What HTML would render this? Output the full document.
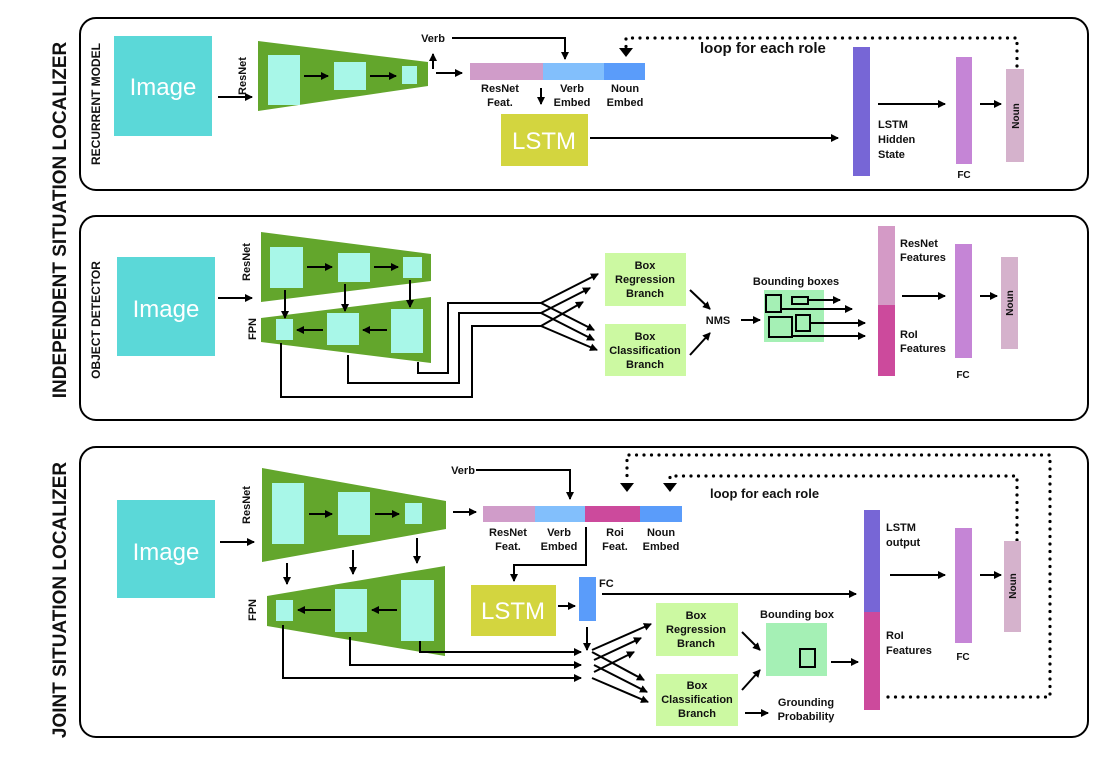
<!DOCTYPE html>
<html><head><meta charset="utf-8"><style>
html,body{margin:0;padding:0;background:#fff;}
svg{display:block;font-family:"Liberation Sans",sans-serif;}
text{font-weight:bold;fill:#111;}
</style></head><body>
<svg width="1100" height="759" viewBox="0 0 1100 759" xmlns="http://www.w3.org/2000/svg">
<defs>
<marker id="a" markerWidth="8" markerHeight="8" refX="7" refY="4" orient="auto" markerUnits="userSpaceOnUse">
<path d="M0,0 L8,4 L0,8 Z" fill="#000"/></marker>
</defs>
<g fill="none" stroke="#000" stroke-width="2">
<rect x="80" y="18" width="1008" height="172" rx="16"/>
<rect x="80" y="216" width="1008" height="204" rx="16"/>
<rect x="80" y="447" width="1008" height="290" rx="16"/>
</g>
<text transform="translate(66,220) rotate(-90)" text-anchor="middle" font-size="19">INDEPENDENT  SITUATION  LOCALIZER</text>
<text transform="translate(66,600) rotate(-90)" text-anchor="middle" font-size="19">JOINT  SITUATION  LOCALIZER</text>
<text transform="translate(100,104) rotate(-90)" text-anchor="middle" font-size="12">RECURRENT MODEL</text>
<text transform="translate(100,320) rotate(-90)" text-anchor="middle" font-size="12">OBJECT DETECTOR</text>

<g stroke="#000" stroke-width="2" fill="none">
<line x1="218" y1="97" x2="252" y2="97" marker-end="url(#a)"/>
</g>
<rect x="114" y="36" width="98" height="100" fill="#5bd8d8"/>
<text x="163" y="95" text-anchor="middle" font-size="24" style="fill:#fff;font-weight:normal">Image</text>
<text transform="translate(246,76) rotate(-90)" text-anchor="middle" font-size="11">ResNet</text>
<polygon points="258,41 428,62 428,86 258,111" fill="#63a62c"/>
<rect x="268" y="55" width="32" height="50" fill="#a8f7e8"/>
<rect x="334" y="62" width="32" height="28" fill="#a8f7e8"/>
<rect x="402" y="66" width="15" height="18" fill="#a8f7e8"/>
<g stroke="#000" stroke-width="2" fill="none">
<line x1="304" y1="76" x2="328" y2="76" marker-end="url(#a)"/>
<line x1="370" y1="76" x2="396" y2="76" marker-end="url(#a)"/>
<line x1="433" y1="69" x2="433" y2="54" marker-end="url(#a)"/>
<line x1="436" y1="73" x2="462" y2="73" marker-end="url(#a)"/>
<polyline points="452,38 565,38 565,59" marker-end="url(#a)"/>
<line x1="541" y1="88" x2="541" y2="104" marker-end="url(#a)"/>
<line x1="590" y1="138" x2="838" y2="138" marker-end="url(#a)"/>
<line x1="878" y1="104" x2="945" y2="104" marker-end="url(#a)"/>
<line x1="980" y1="104" x2="1001" y2="104" marker-end="url(#a)"/>
<polyline points="1017,66 1017,38 626,38 626,48" stroke-dasharray="0 7.5" stroke-linecap="round" stroke-width="3.2"/>
</g>
<path d="M619,48 L633,48 L626,57 Z" fill="#000"/>
<text x="433" y="42" text-anchor="middle" font-size="11">Verb</text>
<rect x="470" y="63" width="73" height="17" fill="#d09cc9"/>
<rect x="543" y="63" width="61" height="17" fill="#82bffc"/>
<rect x="604" y="63" width="41" height="17" fill="#5a9cfa"/>
<g font-size="11" text-anchor="middle">
<text x="500" y="92">ResNet</text><text x="500" y="106">Feat.</text>
<text x="572" y="92">Verb</text><text x="572" y="106">Embed</text>
<text x="625" y="92">Noun</text><text x="625" y="106">Embed</text>
</g>
<rect x="501" y="114" width="87" height="52" fill="#d3d53f"/>
<text x="544" y="149" text-anchor="middle" font-size="24" style="fill:#fff;font-weight:normal">LSTM</text>
<text x="700" y="53" font-size="15">loop for each role</text>
<rect x="853" y="47" width="17" height="129" fill="#7766d6"/>
<g font-size="11"><text x="878" y="128">LSTM</text><text x="878" y="143">Hidden</text><text x="878" y="158">State</text></g>
<rect x="956" y="57" width="16" height="107" fill="#c585d6"/>
<text x="964" y="178" text-anchor="middle" font-size="10">FC</text>
<rect x="1006" y="69" width="18" height="93" fill="#d5b2cc"/>
<text transform="translate(1019,116) rotate(-90)" text-anchor="middle" font-size="10">Noun</text>

<rect x="117" y="257" width="98" height="99" fill="#5bd8d8"/>
<text x="166" y="317" text-anchor="middle" font-size="24" style="fill:#fff;font-weight:normal">Image</text>
<text transform="translate(250,262) rotate(-90)" text-anchor="middle" font-size="11">ResNet</text>
<text transform="translate(256,329) rotate(-90)" text-anchor="middle" font-size="11">FPN</text>
<polygon points="261,232 431,254 431,281 261,302" fill="#63a62c"/>
<rect x="270" y="247" width="33" height="41" fill="#a8f7e8"/>
<rect x="338" y="253" width="32" height="29" fill="#a8f7e8"/>
<rect x="403" y="257" width="19" height="21" fill="#a8f7e8"/>
<polygon points="261,318 431,297 431,363 261,342" fill="#63a62c"/>
<rect x="276" y="319" width="17" height="21" fill="#a8f7e8"/>
<rect x="327" y="313" width="32" height="32" fill="#a8f7e8"/>
<rect x="391" y="309" width="32" height="44" fill="#a8f7e8"/>
<g stroke="#000" stroke-width="2" fill="none">
<line x1="218" y1="298" x2="252" y2="298" marker-end="url(#a)"/>
<line x1="307" y1="267" x2="332" y2="267" marker-end="url(#a)"/>
<line x1="374" y1="267" x2="398" y2="267" marker-end="url(#a)"/>
<line x1="285" y1="290" x2="285" y2="318" marker-end="url(#a)"/>
<line x1="345" y1="284" x2="345" y2="311" marker-end="url(#a)"/>
<line x1="410" y1="280" x2="410" y2="307" marker-end="url(#a)"/>
<line x1="387" y1="330" x2="363" y2="330" marker-end="url(#a)"/>
<line x1="323" y1="330" x2="297" y2="330" marker-end="url(#a)"/>
<polyline points="418,362 418,373 448,373 448,303 541,303"/>
<polyline points="348,355 348,383 459,383 459,313 541,313"/>
<polyline points="281,343 281,397 472,397 472,326 541,326"/>
<line x1="541" y1="303" x2="598" y2="274" marker-end="url(#a)"/>
<line x1="541" y1="313" x2="590" y2="288" marker-end="url(#a)"/>
<line x1="541" y1="326" x2="583" y2="302" marker-end="url(#a)"/>
<line x1="541" y1="303" x2="594" y2="330" marker-end="url(#a)"/>
<line x1="541" y1="313" x2="594" y2="340" marker-end="url(#a)"/>
<line x1="541" y1="326" x2="597" y2="350" marker-end="url(#a)"/>
<line x1="690" y1="290" x2="710" y2="309" marker-end="url(#a)"/>
<line x1="690" y1="355" x2="710" y2="333" marker-end="url(#a)"/>
<line x1="741" y1="320" x2="760" y2="320" marker-end="url(#a)"/>
<line x1="902" y1="296" x2="945" y2="296" marker-end="url(#a)"/>
<line x1="980" y1="296" x2="997" y2="296" marker-end="url(#a)"/>
</g>
<rect x="605" y="253" width="81" height="53" fill="#ccf9a2"/>
<rect x="605" y="324" width="81" height="52" fill="#ccf9a2"/>
<g font-size="11" text-anchor="middle">
<text x="645" y="269">Box</text><text x="645" y="283">Regression</text><text x="645" y="297">Branch</text>
<text x="645" y="340">Box</text><text x="645" y="354">Classification</text><text x="645" y="368">Branch</text>
<text x="718" y="324">NMS</text>
<text x="796" y="285">Bounding boxes</text>
</g>
<rect x="764" y="290" width="60" height="52" fill="#a5f0b5"/>
<g stroke="#000" stroke-width="2" fill="none">
<rect x="766" y="295" width="15" height="17"/>
<rect x="792" y="297" width="16" height="7"/>
<rect x="769" y="317" width="23" height="20"/>
<rect x="796" y="315" width="14" height="16"/>
<line x1="808" y1="300" x2="840" y2="300" marker-end="url(#a)"/>
<line x1="781" y1="309" x2="852" y2="309" marker-end="url(#a)"/>
<line x1="810" y1="323" x2="865" y2="323" marker-end="url(#a)"/>
<line x1="792" y1="336" x2="865" y2="336" marker-end="url(#a)"/>
</g>
<rect x="878" y="226" width="17" height="79" fill="#d49ac6"/>
<rect x="878" y="305" width="17" height="71" fill="#cc4a9c"/>
<g font-size="11"><text x="900" y="247">ResNet</text><text x="900" y="261">Features</text>
<text x="900" y="338">RoI</text><text x="900" y="352">Features</text></g>
<rect x="955" y="244" width="17" height="114" fill="#c585d6"/>
<text x="963" y="378" text-anchor="middle" font-size="10">FC</text>
<rect x="1001" y="257" width="17" height="92" fill="#d5b2cc"/>
<text transform="translate(1013,303) rotate(-90)" text-anchor="middle" font-size="10">Noun</text>

<rect x="117" y="500" width="98" height="98" fill="#5bd8d8"/>
<text x="166" y="560" text-anchor="middle" font-size="24" style="fill:#fff;font-weight:normal">Image</text>
<text transform="translate(250,505) rotate(-90)" text-anchor="middle" font-size="11">ResNet</text>
<text transform="translate(256,610) rotate(-90)" text-anchor="middle" font-size="11">FPN</text>
<polygon points="262,468 446,501 446,529 262,562" fill="#63a62c"/>
<rect x="272" y="483" width="32" height="61" fill="#a8f7e8"/>
<rect x="338" y="492" width="32" height="43" fill="#a8f7e8"/>
<rect x="405" y="503" width="17" height="21" fill="#a8f7e8"/>
<polygon points="267,596 445,566 445,656 267,626" fill="#63a62c"/>
<rect x="276" y="600" width="17" height="21" fill="#a8f7e8"/>
<rect x="335" y="589" width="32" height="43" fill="#a8f7e8"/>
<rect x="401" y="580" width="33" height="61" fill="#a8f7e8"/>
<g stroke="#000" stroke-width="2" fill="none">
<line x1="220" y1="542" x2="254" y2="542" marker-end="url(#a)"/>
<line x1="309" y1="514" x2="332" y2="514" marker-end="url(#a)"/>
<line x1="375" y1="514" x2="399" y2="514" marker-end="url(#a)"/>
<line x1="287" y1="563" x2="287" y2="584" marker-end="url(#a)"/>
<line x1="353" y1="550" x2="353" y2="574" marker-end="url(#a)"/>
<line x1="417" y1="538" x2="417" y2="563" marker-end="url(#a)"/>
<line x1="397" y1="610" x2="372" y2="610" marker-end="url(#a)"/>
<line x1="331" y1="610" x2="298" y2="610" marker-end="url(#a)"/>
<line x1="453" y1="512" x2="476" y2="512" marker-end="url(#a)"/>
<polyline points="476,470 570,470 570,499" marker-end="url(#a)"/>
<polyline points="586,527 586,565 514,565 514,581" marker-end="url(#a)"/>
<line x1="558" y1="606" x2="575" y2="606" marker-end="url(#a)"/>
<line x1="602" y1="594" x2="856" y2="594" marker-end="url(#a)"/>
<line x1="587" y1="627" x2="587" y2="650" marker-end="url(#a)"/>
<polyline points="420,641 420,652 581,652" marker-end="url(#a)"/>
<polyline points="350,637 350,665 581,665" marker-end="url(#a)"/>
<polyline points="283,625 283,678 581,678" marker-end="url(#a)"/>
<line x1="592" y1="650" x2="651" y2="624" marker-end="url(#a)"/>
<line x1="594" y1="660" x2="641" y2="638" marker-end="url(#a)"/>
<line x1="594" y1="672" x2="634" y2="652" marker-end="url(#a)"/>
<line x1="592" y1="652" x2="644" y2="680" marker-end="url(#a)"/>
<line x1="594" y1="665" x2="647" y2="692" marker-end="url(#a)"/>
<line x1="592" y1="678" x2="648" y2="702" marker-end="url(#a)"/>
<line x1="742" y1="632" x2="760" y2="650" marker-end="url(#a)"/>
<line x1="742" y1="690" x2="760" y2="670" marker-end="url(#a)"/>
<line x1="831" y1="662" x2="858" y2="662" marker-end="url(#a)"/>
<line x1="745" y1="713" x2="768" y2="713" marker-end="url(#a)"/>
<line x1="890" y1="575" x2="945" y2="575" marker-end="url(#a)"/>
<line x1="980" y1="575" x2="1001" y2="575" marker-end="url(#a)"/>
<polyline points="888,697 1050,697 1050,455 627,455 627,482" stroke-dasharray="0 7.5" stroke-linecap="round" stroke-width="3.2"/>
<polyline points="1017,540 1017,476 670,476 670,482" stroke-dasharray="0 7.5" stroke-linecap="round" stroke-width="3.2"/>
</g>
<path d="M620,483 L634,483 L627,492 Z" fill="#000"/>
<path d="M663,483 L677,483 L670,492 Z" fill="#000"/>
<text x="463" y="474" text-anchor="middle" font-size="11">Verb</text>
<rect x="483" y="506" width="52" height="16" fill="#d09cc9"/>
<rect x="535" y="506" width="50" height="16" fill="#82bffc"/>
<rect x="585" y="506" width="55" height="16" fill="#cc4a9c"/>
<rect x="640" y="506" width="42" height="16" fill="#5a9cfa"/>
<g font-size="11" text-anchor="middle">
<text x="508" y="536">ResNet</text><text x="508" y="550">Feat.</text>
<text x="559" y="536">Verb</text><text x="559" y="550">Embed</text>
<text x="615" y="536">Roi</text><text x="615" y="550">Feat.</text>
<text x="661" y="536">Noun</text><text x="661" y="550">Embed</text>
</g>
<text x="710" y="498" font-size="13">loop for each role</text>
<rect x="471" y="585" width="85" height="51" fill="#d3d53f"/>
<text x="513" y="619" text-anchor="middle" font-size="24" style="fill:#fff;font-weight:normal">LSTM</text>
<rect x="579" y="577" width="17" height="44" fill="#5a9cfa"/>
<text x="599" y="587" font-size="11">FC</text>
<rect x="656" y="603" width="82" height="53" fill="#ccf9a2"/>
<rect x="656" y="674" width="82" height="52" fill="#ccf9a2"/>
<g font-size="11" text-anchor="middle">
<text x="696" y="619">Box</text><text x="696" y="633">Regression</text><text x="696" y="647">Branch</text>
<text x="697" y="689">Box</text><text x="697" y="703">Classification</text><text x="697" y="717">Branch</text>
<text x="797" y="618">Bounding box</text>
<text x="806" y="706">Grounding</text><text x="806" y="720">Probability</text>
</g>
<rect x="766" y="623" width="61" height="53" fill="#a5f0b5"/>
<rect x="800" y="649" width="15" height="18" fill="none" stroke="#000" stroke-width="2"/>
<rect x="864" y="510" width="16" height="102" fill="#7766d6"/>
<rect x="864" y="612" width="16" height="98" fill="#cc4a9c"/>
<g font-size="11"><text x="886" y="531">LSTM</text><text x="886" y="546">output</text>
<text x="886" y="639">RoI</text><text x="886" y="654">Features</text></g>
<rect x="955" y="528" width="17" height="115" fill="#c585d6"/>
<text x="963" y="660" text-anchor="middle" font-size="10">FC</text>
<rect x="1004" y="541" width="17" height="91" fill="#d5b2cc"/>
<text transform="translate(1016,586) rotate(-90)" text-anchor="middle" font-size="10">Noun</text>
</svg>
</body></html>
